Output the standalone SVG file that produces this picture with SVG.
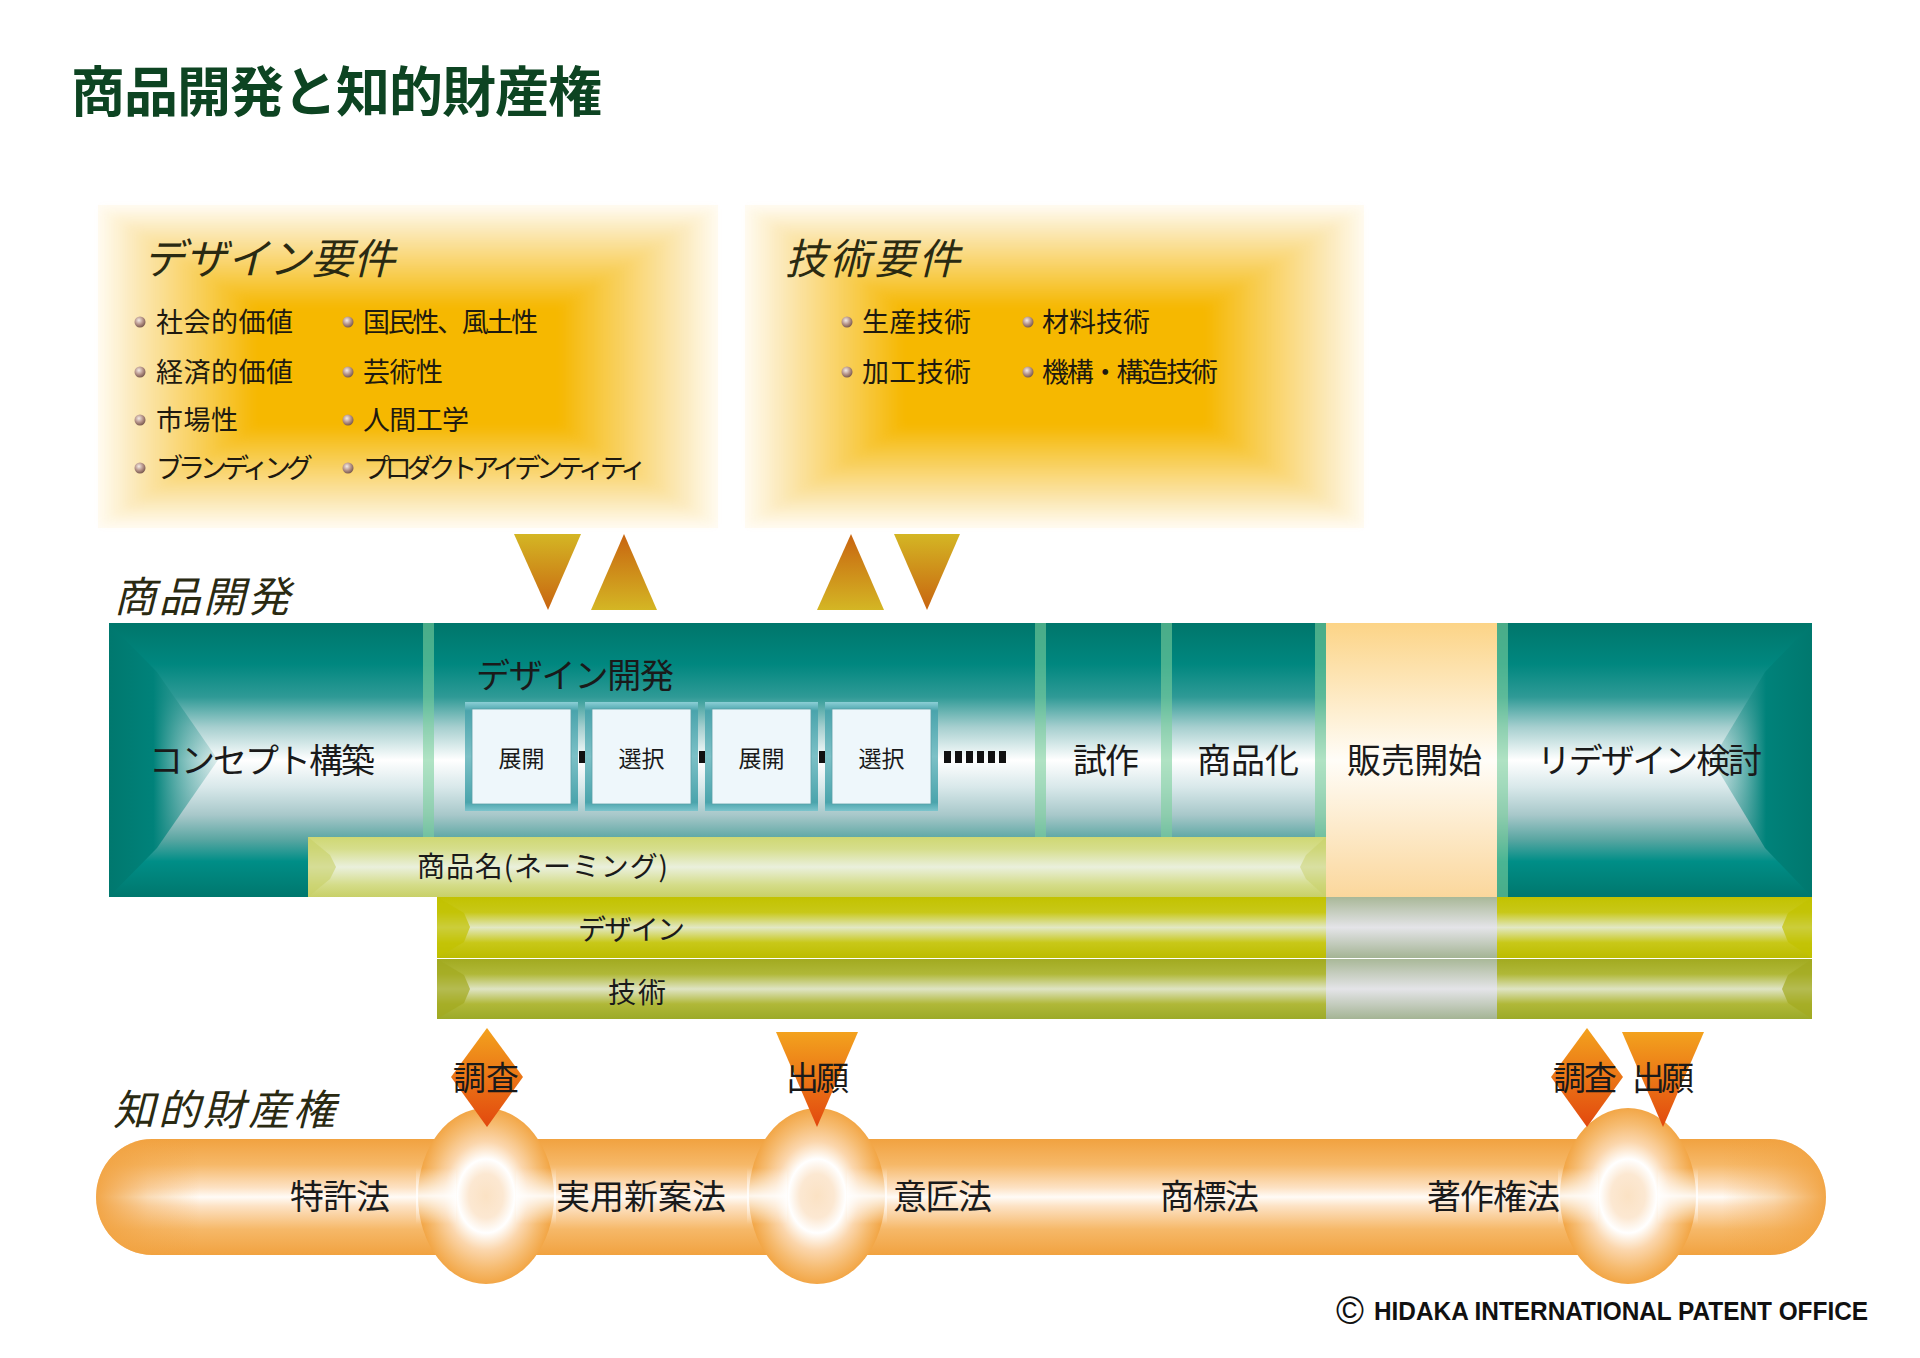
<svg xmlns="http://www.w3.org/2000/svg" xmlns:xlink="http://www.w3.org/1999/xlink" width="1920" height="1358" viewBox="0 0 1920 1358">
<defs>
<style>
text { font-family: "Noto Sans CJK JP", "Noto Sans", sans-serif; fill: #1a1a1a; }
.title { font-size: 54px; font-weight: 700; fill: #0d4422; }
.it { font-size: 42px; font-style: italic; fill: #2a2a12; }
.bl { font-size: 27px; fill: #1e1a10; }
.m { font-size: 34px; }
.bx { font-size: 23px; }
.bar { font-size: 28px; }
.ip { font-size: 33px; }
.copy { font-family: "Liberation Sans", Arial, sans-serif; font-weight: 700; font-size: 26px; fill: #111; }
</style>
<filter id="soft" x="-5%" y="-5%" width="110%" height="110%"><feGaussianBlur stdDeviation="5"/></filter>
<g id="glowStack" fill="#f6b800" filter="url(#soft)">
<rect x="102" y="209" width="612" height="315" opacity="0.0714"/>
<rect x="113.5" y="216.3" width="589" height="300.4" opacity="0.0769"/>
<rect x="125" y="223.6" width="566" height="285.8" opacity="0.0833"/>
<rect x="136.5" y="230.9" width="543" height="271.2" opacity="0.0909"/>
<rect x="148" y="238.2" width="520" height="256.6" opacity="0.1"/>
<rect x="159.5" y="245.5" width="497" height="242" opacity="0.1111"/>
<rect x="171" y="252.8" width="474" height="227.4" opacity="0.125"/>
<rect x="182.5" y="260.1" width="451" height="212.8" opacity="0.1429"/>
<rect x="194" y="267.4" width="428" height="198.2" opacity="0.1667"/>
<rect x="205.5" y="274.7" width="405" height="183.6" opacity="0.2"/>
<rect x="217" y="282" width="382" height="169" opacity="0.25"/>
<rect x="228.5" y="289.3" width="359" height="154.4" opacity="0.3333"/>
<rect x="240" y="296.6" width="336" height="139.8" opacity="0.5"/>
<rect x="251.5" y="303.9" width="313" height="125.2"/>
</g>
<linearGradient id="tealV" gradientUnits="userSpaceOnUse" x1="0" y1="623" x2="0" y2="897">
<stop offset="0" stop-color="#00766b"/><stop offset="0.15" stop-color="#00877f"/><stop offset="0.27" stop-color="#2f9a96"/><stop offset="0.38" stop-color="#a6cfcf"/><stop offset="0.5" stop-color="#ffffff"/><stop offset="0.6" stop-color="#d8e8ea"/><stop offset="0.7" stop-color="#a8c8ca"/><stop offset="0.79" stop-color="#5aa6a2"/><stop offset="0.87" stop-color="#008e87"/><stop offset="1" stop-color="#00776d"/>
</linearGradient>
<linearGradient id="bevL" gradientUnits="userSpaceOnUse" x1="109" y1="0" x2="220" y2="0">
<stop offset="0" stop-color="#00786e"/><stop offset="0.4" stop-color="#00827a"/><stop offset="1" stop-color="#6fb4b2" stop-opacity="0.2"/>
</linearGradient>
<linearGradient id="bevR" gradientUnits="userSpaceOnUse" x1="1812" y1="0" x2="1710" y2="0">
<stop offset="0" stop-color="#00786e"/><stop offset="0.45" stop-color="#00827a"/><stop offset="1" stop-color="#6fb4b2" stop-opacity="0.2"/>
</linearGradient>
<linearGradient id="peachV" x1="0" y1="0" x2="0" y2="1"><stop offset="0" stop-color="#fcd487"/><stop offset="0.5" stop-color="#fffdf8"/><stop offset="1" stop-color="#fbd79c"/></linearGradient>
<linearGradient id="namingV" x1="0" y1="0" x2="0" y2="1"><stop offset="0" stop-color="#cfd873"/><stop offset="0.2" stop-color="#d6de8c"/><stop offset="0.5" stop-color="#eaf0dc"/><stop offset="0.8" stop-color="#d4dc88"/><stop offset="1" stop-color="#c8d068"/></linearGradient>
<linearGradient id="designV" x1="0" y1="0" x2="0" y2="1"><stop offset="0" stop-color="#c2c200"/><stop offset="0.25" stop-color="#c8c818"/><stop offset="0.5" stop-color="#e2e8c4"/><stop offset="0.75" stop-color="#c8c818"/><stop offset="1" stop-color="#bcbc00"/></linearGradient>
<linearGradient id="techV" x1="0" y1="0" x2="0" y2="1"><stop offset="0" stop-color="#a2aa20"/><stop offset="0.25" stop-color="#b0b838"/><stop offset="0.5" stop-color="#dfe4c4"/><stop offset="0.75" stop-color="#b0b838"/><stop offset="1" stop-color="#9caa28"/></linearGradient>
<linearGradient id="grayV" x1="0" y1="0" x2="0" y2="1"><stop offset="0" stop-color="#a9b898"/><stop offset="0.5" stop-color="#e4e4e8"/><stop offset="1" stop-color="#a4b494"/></linearGradient>
<linearGradient id="boxFrame" x1="0" y1="0" x2="0" y2="1"><stop offset="0" stop-color="#8ccfd6"/><stop offset="0.08" stop-color="#4aa4ac"/><stop offset="0.5" stop-color="#7cc0c6"/><stop offset="0.92" stop-color="#4aa4ac"/><stop offset="1" stop-color="#7cc4cc"/></linearGradient>
<linearGradient id="tubeV" x1="0" y1="0" x2="0" y2="1"><stop offset="0" stop-color="#f1a240"/><stop offset="0.22" stop-color="#f6b868"/><stop offset="0.42" stop-color="#fde2c4"/><stop offset="0.5" stop-color="#fffbf6"/><stop offset="0.58" stop-color="#fde2c4"/><stop offset="0.78" stop-color="#f6b868"/><stop offset="1" stop-color="#f1a240"/></linearGradient>
<linearGradient id="tubeEnds" gradientUnits="userSpaceOnUse" x1="96" y1="0" x2="1826" y2="0"><stop offset="0" stop-color="#f1a240" stop-opacity="0.95"/><stop offset="0.03" stop-color="#f1a240" stop-opacity="0.35"/><stop offset="0.06" stop-color="#f1a240" stop-opacity="0"/><stop offset="0.94" stop-color="#f1a240" stop-opacity="0"/><stop offset="0.97" stop-color="#f1a240" stop-opacity="0.35"/><stop offset="1" stop-color="#f1a240" stop-opacity="0.95"/></linearGradient>
<radialGradient id="bulgeR" cx="0.5" cy="0.5" r="0.5"><stop offset="0" stop-color="#fbe2c4"/><stop offset="0.25" stop-color="#fce8d2"/><stop offset="0.42" stop-color="#ffffff"/><stop offset="0.62" stop-color="#fbd6ac"/><stop offset="0.82" stop-color="#f6bc72"/><stop offset="1" stop-color="#f2a646"/></radialGradient>
<linearGradient id="whiteBand" x1="0" y1="0" x2="0" y2="1"><stop offset="0" stop-color="#ffffff" stop-opacity="0"/><stop offset="0.5" stop-color="#ffffff" stop-opacity="0.9"/><stop offset="1" stop-color="#ffffff" stop-opacity="0"/></linearGradient>
<linearGradient id="orgV" x1="0" y1="0" x2="0" y2="1"><stop offset="0" stop-color="#f3a21e"/><stop offset="1" stop-color="#e2480e"/></linearGradient>
<linearGradient id="goldDown" x1="0" y1="0" x2="0" y2="1"><stop offset="0" stop-color="#d4b624"/><stop offset="1" stop-color="#c86410"/></linearGradient>
<linearGradient id="goldUp" x1="0" y1="0" x2="0" y2="1"><stop offset="0" stop-color="#c86410"/><stop offset="1" stop-color="#d4b624"/></linearGradient>
<radialGradient id="ball" cx="0.4" cy="0.35" r="0.65"><stop offset="0" stop-color="#f4ece6"/><stop offset="0.55" stop-color="#b8968c"/><stop offset="1" stop-color="#7a5a50"/></radialGradient>
</defs>

<rect width="1920" height="1358" fill="#ffffff"/>

<g id="title"><text class="title" x="71" y="112" textLength="531">商品開発と知的財産権</text></g>

<g id="design-requirements">
<rect x="98" y="205" width="620" height="323" fill="#fffbf3"/>
<use href="#glowStack" xlink:href="#glowStack"/>
<text class="it" x="143" y="274" textLength="252">デザイン要件</text>
<g fill="url(#ball)"><circle cx="140" cy="322" r="5.5"/><circle cx="140" cy="372" r="5.5"/><circle cx="140" cy="420" r="5.5"/><circle cx="140" cy="468" r="5.5"/><circle cx="348" cy="322" r="5.5"/><circle cx="348" cy="372" r="5.5"/><circle cx="348" cy="420" r="5.5"/><circle cx="348" cy="468" r="5.5"/></g>
<text class="bl" x="156" y="332" textLength="137">社会的価値</text>
<text class="bl" x="156" y="382" textLength="137">経済的価値</text>
<text class="bl" x="156" y="430" textLength="82">市場性</text>
<text class="bl" x="156" y="478" textLength="157">ブランディング</text>
<text class="bl" x="363" y="332" textLength="175">国民性、風土性</text>
<text class="bl" x="363" y="382" textLength="80">芸術性</text>
<text class="bl" x="363" y="430" textLength="106">人間工学</text>
<text class="bl" x="363" y="478" textLength="284">プロダクトアイデンティティ</text>
</g>

<g id="tech-requirements">
<rect x="745" y="205" width="619" height="323" fill="#fffbf3"/>
<use href="#glowStack" xlink:href="#glowStack" x="647"/>
<text class="it" x="785" y="274" textLength="175">技術要件</text>
<g fill="url(#ball)"><circle cx="847" cy="322" r="5.5"/><circle cx="847" cy="372" r="5.5"/><circle cx="1028" cy="322" r="5.5"/><circle cx="1028" cy="372" r="5.5"/></g>
<text class="bl" x="862" y="332" textLength="109">生産技術</text>
<text class="bl" x="862" y="382" textLength="109">加工技術</text>
<text class="bl" x="1042" y="332" textLength="108">材料技術</text>
<text class="bl" x="1042" y="382" textLength="176">機構・構造技術</text>
</g>

<g id="label-product-dev"><text class="it" x="114" y="612" textLength="176">商品開発</text></g>

<g id="dev-band">
<rect x="109" y="623" width="1703" height="274" fill="url(#tealV)"/>
<polygon points="109,623 157,672 218,760 157,848 109,897" fill="url(#bevL)"/>
<polygon points="1812,623 1765,672 1712,760 1765,848 1812,897" fill="url(#bevR)"/>
<g fill="#7cd09c" opacity="0.6">
<rect x="423" y="623" width="11" height="214"/>
<rect x="1035" y="623" width="11" height="214"/>
<rect x="1161" y="623" width="11" height="214"/>
<rect x="1315" y="623" width="11" height="214"/>
<rect x="1497" y="623" width="11" height="274"/>
</g>
</g>

<g id="concept"><text class="m" x="149" y="773" textLength="226">コンセプト構築</text></g>
<g id="design-dev"><text class="m" x="476" y="688" textLength="198">デザイン開発</text></g>

<g id="box-1"><rect x="465" y="702" width="113" height="109" fill="url(#boxFrame)"/><rect x="472" y="709" width="99" height="95" fill="#eef7fb" stroke="#5aa0a8" stroke-width="0.8"/><text class="bx" x="521.5" y="767" text-anchor="middle">展開</text></g>
<g id="box-2"><rect x="585" y="702" width="113" height="109" fill="url(#boxFrame)"/><rect x="592" y="709" width="99" height="95" fill="#eef7fb" stroke="#5aa0a8" stroke-width="0.8"/><text class="bx" x="641.5" y="767" text-anchor="middle">選択</text></g>
<g id="box-3"><rect x="705" y="702" width="113" height="109" fill="url(#boxFrame)"/><rect x="712" y="709" width="99" height="95" fill="#eef7fb" stroke="#5aa0a8" stroke-width="0.8"/><text class="bx" x="761.5" y="767" text-anchor="middle">展開</text></g>
<g id="box-4"><rect x="825" y="702" width="113" height="109" fill="url(#boxFrame)"/><rect x="832" y="709" width="99" height="95" fill="#eef7fb" stroke="#5aa0a8" stroke-width="0.8"/><text class="bx" x="881.5" y="767" text-anchor="middle">選択</text></g>

<g id="prototype"><text class="m" x="1073" y="773" textLength="66">試作</text></g>
<g id="commercialize"><text class="m" x="1197" y="773" textLength="102">商品化</text></g>
<g id="launch"><rect x="1326" y="623" width="171" height="274" fill="url(#peachV)"/><text class="m" x="1347" y="773" textLength="135">販売開始</text></g>
<g id="redesign"><text class="m" x="1537" y="773" textLength="225">リデザイン検討</text></g>

<g id="naming">
<rect x="308" y="837" width="1018" height="60" fill="url(#namingV)"/>
<polygon points="308,837 330,855 336,867 330,879 308,897" fill="#c8d068" opacity="0.6"/>
<polygon points="1326,837 1306,855 1300,867 1306,879 1326,897" fill="#c8d068" opacity="0.5"/>
<text class="bar" x="417" y="877" textLength="251">商品名(ネーミング)</text>
</g>

<g id="design-bar">
<rect x="437" y="897" width="1375" height="61" fill="url(#designV)"/>
<polygon points="437,897 464,913 470,927 464,942 437,958" fill="#c2c200" opacity="0.7"/>
<polygon points="1812,897 1788,913 1782,927 1788,942 1812,958" fill="#c2c200" opacity="0.7"/>
<rect x="1326" y="897" width="171" height="61" fill="url(#grayV)"/>
<text class="bar" x="578" y="940" textLength="107">デザイン</text>
</g>

<g id="tech-bar">
<rect x="437" y="959" width="1375" height="60" fill="url(#techV)"/>
<polygon points="437,959 464,975 470,989 464,1003 437,1019" fill="#a2aa20" opacity="0.7"/>
<polygon points="1812,959 1788,975 1782,989 1788,1003 1812,1019" fill="#a2aa20" opacity="0.7"/>
<rect x="1326" y="959" width="171" height="60" fill="url(#grayV)"/>
<text class="bar" x="608" y="1003" textLength="58">技術</text>
</g>

<g id="label-ip"><text class="it" x="113" y="1125" textLength="222">知的財産権</text></g>

<g id="ip-tube">
<rect x="96" y="1139" width="1730" height="116" rx="56" ry="58" fill="url(#tubeV)"/>
<rect x="96" y="1139" width="1730" height="116" rx="56" ry="58" fill="url(#tubeEnds)"/>
<ellipse cx="486" cy="1196" rx="68" ry="88" fill="url(#bulgeR)"/>
<ellipse cx="817" cy="1196" rx="68" ry="88" fill="url(#bulgeR)"/>
<ellipse cx="1628" cy="1196" rx="68" ry="88" fill="url(#bulgeR)"/>
<g fill="url(#whiteBand)">
<rect x="416" y="1168" width="40" height="56"/><rect x="516" y="1168" width="40" height="56"/>
<rect x="747" y="1168" width="40" height="56"/><rect x="847" y="1168" width="40" height="56"/>
<rect x="1558" y="1168" width="40" height="56"/><rect x="1658" y="1168" width="40" height="56"/>
</g>
<text class="m" x="290" y="1209" textLength="100">特許法</text>
<text class="m" x="556" y="1209" textLength="170">実用新案法</text>
<text class="m" x="893" y="1209" textLength="99">意匠法</text>
<text class="m" x="1160" y="1209" textLength="99">商標法</text>
<text class="m" x="1427" y="1209" textLength="133">著作権法</text>
</g>

<g id="connectors">
<polygon points="514,534 581,534 548,610" fill="url(#goldDown)"/>
<polygon points="591,610 657,610 624,534" fill="url(#goldUp)"/>
<polygon points="817,610 884,610 851,534" fill="url(#goldUp)"/>
<polygon points="894,534 960,534 927,610" fill="url(#goldDown)"/>
<g fill="#111111">
<rect x="579" y="751" width="6" height="12"/>
<rect x="699" y="751" width="6" height="12"/>
<rect x="819" y="751" width="6" height="12"/>
<rect x="944" y="751" width="7" height="12"/><rect x="955" y="751" width="7" height="12"/><rect x="966" y="751" width="7" height="12"/><rect x="977" y="751" width="7" height="12"/><rect x="988" y="751" width="7" height="12"/><rect x="999" y="751" width="7" height="12"/>
</g>
<polygon points="487,1028 523,1077 487,1127 451,1077" fill="url(#orgV)"/>
<polygon points="776,1032 858,1032 817,1127" fill="url(#orgV)"/>
<polygon points="1587,1028 1623,1077 1587,1127 1551,1077" fill="url(#orgV)"/>
<polygon points="1622,1032 1704,1032 1663,1127" fill="url(#orgV)"/>
<text class="ip" x="453" y="1090" textLength="66">調査</text>
<text class="ip" x="786" y="1090" textLength="63">出願</text>
<text class="ip" x="1553" y="1090" textLength="64">調査</text>
<text class="ip" x="1632" y="1090" textLength="62">出願</text>
</g>

<g id="copyright">
<text class="copy" x="1350" y="1324" text-anchor="middle" style="font-size:38px;font-weight:400">©</text>
<text class="copy" x="1374" y="1320" textLength="494" lengthAdjust="spacingAndGlyphs">HIDAKA INTERNATIONAL PATENT OFFICE</text>
</g>
</svg>
